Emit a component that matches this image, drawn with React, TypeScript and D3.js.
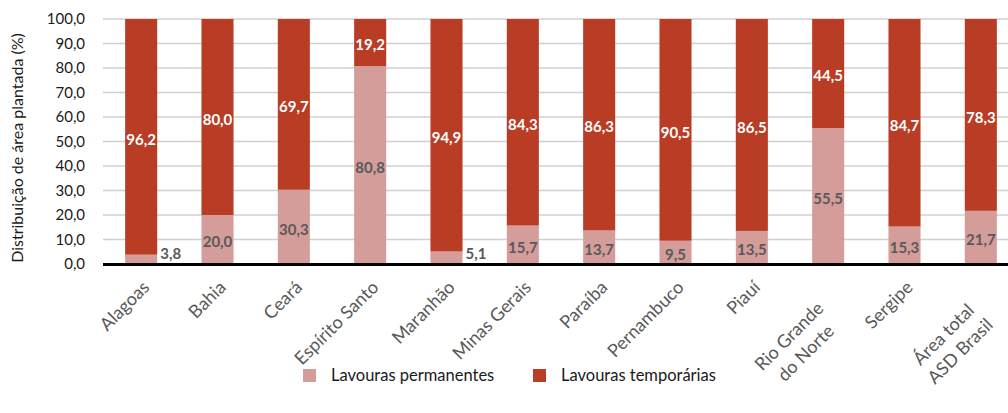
import React from "react";
import * as d3 from "d3";

const categories: string[][] = [
  ["Alagoas"], ["Bahia"], ["Ceará"], ["Espírito Santo"], ["Maranhão"], ["Minas Gerais"],
  ["Paraíba"], ["Pernambuco"], ["Piauí"], ["Rio Grande", "do Norte"], ["Sergipe"], ["Área total", "ASD Brasil"],
];
const permanentes = [3.8, 20.0, 30.3, 80.8, 5.1, 15.7, 13.7, 9.5, 13.5, 55.5, 15.3, 21.7];
const temporarias = [96.2, 80.0, 69.7, 19.2, 94.9, 84.3, 86.3, 90.5, 86.5, 44.5, 84.7, 78.3];
const yTicks = [0, 10, 20, 30, 40, 50, 60, 70, 80, 90, 100];
const seriesNames = ["Lavouras permanentes", "Lavouras temporárias"];
const colors = ["#d49d9a", "#b93c25"];

const W = 1008, H = 413;
const FONT = "Lato, 'Open Sans', sans-serif";
const XFS = 18;

let ctx: CanvasRenderingContext2D | null = null;
function measure(s: string, size: number) {
  if (!ctx) ctx = document.createElement("canvas").getContext("2d");
  if (!ctx) return s.length * size * 0.5;
  ctx.font = `${size}px Lato, 'Open Sans', sans-serif`;
  return ctx.measureText(s).width;
}

export default function App() {
  React.useEffect(() => { document.body.style.margin = "0"; }, []);
  const keys = categories.map((c) => c.join(" "));
  const x = d3.scaleBand<string>().domain(keys).range([103, 1019]).paddingInner(0.58).paddingOuter(0.29);
  const y = d3.scaleLinear().domain([0, 100]).range([264, 19]);
  const fmt = (v: number) => v.toFixed(1).replace(".", ",");
  const rows = keys.map((k, i) => ({ k, p: permanentes[i], t: temporarias[i] }));
  const stack = d3.stack<any>().keys(["p", "t"])(rows);
  const bw = x.bandwidth();

  return (
    <svg width={W} height={H} style={{ display: "block", fontFamily: FONT }}>
      {yTicks.map((t) => (
        <g key={t}>
          {t > 0 && <line x1={103} x2={W} y1={y(t)} y2={y(t)} stroke="#d0d0d0" strokeWidth={1.5} />}
          <text x={85} y={y(t)} dy="0.35em" textAnchor="end" fontSize={15} fill="#1a1a1a">{fmt(t)}</text>
        </g>
      ))}
      <text transform={`translate(23,${148}) rotate(-90)`} textAnchor="middle" fontSize={16} fill="#1a1a1a">
        Distribuição de área plantada (%)
      </text>
      {stack.map((s, si) => (
        <g key={si} fill={colors[si]}>
          {s.map((d, i) => (
            <rect key={i} x={x(keys[i])!} width={bw} y={y(d[1])} height={y(d[0]) - y(d[1])} />
          ))}
        </g>
      ))}
      <line x1={103} x2={W} y1={y(0) + 0.5} y2={y(0) + 0.5} stroke="#000" strokeWidth={3} />
      {rows.map((r, i) => {
        const x0 = x(r.k)!;
        const cx = x0 + bw / 2;
        const small = r.p < 6;
        return (
          <g key={i} fontWeight="bold" fontSize={15}>
            {small ? (
              <text x={x0 + bw + 3} y={253.5} dy="0.35em" textAnchor="start" fill="#595959">{fmt(r.p)}</text>
            ) : (
              <text x={cx} y={y(r.p / 2) + 2.5} dy="0.35em" textAnchor="middle" fill="#595959">{fmt(r.p)}</text>
            )}
            <text x={cx} y={y(r.p + r.t / 2) + 2.5} dy="0.35em" textAnchor="middle" fill="#fff">{fmt(r.t)}</text>
          </g>
        );
      })}
      {categories.map((c, i) => {
        const cx = x(keys[i])! + bw / 2;
        if (c.length === 1) {
          return (
            <text key={i} transform={`translate(${cx + 5},${284}) rotate(-45)`} textAnchor="end" dy="0.35em" fontSize={XFS} fill="#595959">
              {c[0]}
            </text>
          );
        }
        const maxLen = Math.max(...c.map((l) => measure(l, XFS)));
        return (
          <text key={i} transform={`translate(${cx + 5},${284}) rotate(-45)`} textAnchor="middle" fontSize={XFS} fill="#595959">
            {c.map((line, j) => (
              <tspan key={j} x={-maxLen / 2 - 24} y={12 + j * 23.5}>{line}</tspan>
            ))}
          </text>
        );
      })}
      {seriesNames.map((s, i) => {
        const lx = i === 0 ? 303 : 533;
        return (
          <g key={s}>
            <rect x={lx} y={369} width={13} height={13} fill={colors[i]} />
            <text x={lx + 28} y={375.5} dy="0.35em" fontSize={16.5} fill="#1a1a1a">{s}</text>
          </g>
        );
      })}
    </svg>
  );
}
